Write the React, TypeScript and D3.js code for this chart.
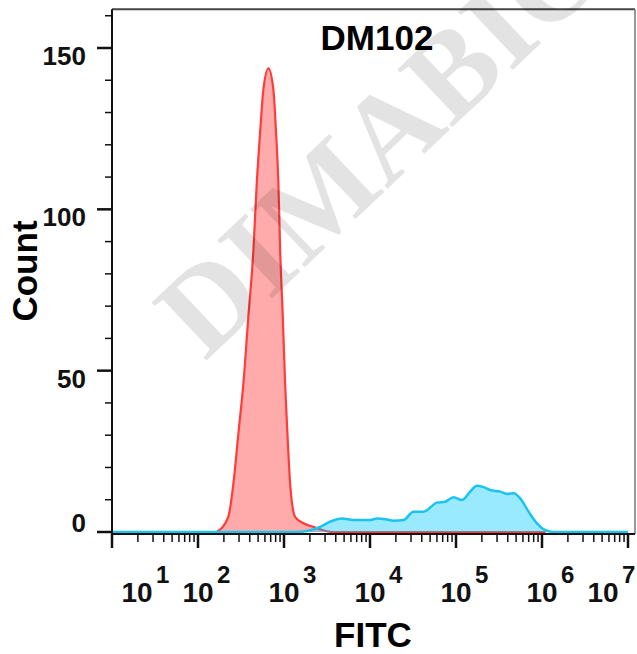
import React from 'react';
import * as d3 from 'd3';

// FITC intensity and count
const redFitc = [165, 225, 258, 295, 337, 385, 441, 482, 527, 575, 659, 753, 809, 861, 902, 968, 1030, 1096, 1178, 1346, 1683, 2198, 3715, 1100000];
const redCount = [0, 4.7, 15, 30.6, 46, 66.7, 87.4, 108, 123.6, 137, 143.7, 137, 123.6, 108, 87.4, 66.7, 46, 30.6, 15, 4.7, 2.7, 1.6, 0, 0];

const blueFitc = [10, 1400, 2630, 3436, 4699, 6427, 10046, 12023, 15704, 18750, 24547, 32063, 41879, 59979, 74817, 93541, 116950, 146220, 174980, 208930, 250030, 326590, 390840, 466660, 558470, 698230, 873000, 1091000, 1361000, 10000000];
const blueCount = [0, 0, 1.6, 3.2, 4.2, 3.7, 3.7, 4.2, 3.9, 3.5, 3.7, 6.3, 6.3, 9.1, 9.4, 10.8, 9.9, 12.5, 14.3, 13.9, 13.0, 12.5, 11.8, 12.0, 10.4, 6.3, 2.7, 0.6, 0, 0];

const yMajor = [0, 50, 100, 150];
const yMinor = [10, 20, 30, 40, 60, 70, 80, 90, 110, 120, 130, 140, 160];
const xDecades = [1, 2, 3, 4, 5, 6, 7];

const title = 'DM102';
const xTitle = 'FITC';
const yTitle = 'Count';
const watermark = 'DIMABIO';

const W = 637;
const H = 654;
const font = '"Liberation Sans", Arial, sans-serif';

export default function App() {
  const x = d3.scaleLog().domain([10, 1e7]).range([112, 628]);
  const y = d3.scaleLinear().domain([0, 150]).range([532, 48]);
  const top = y(162);
  const right = 635;
  const axisY = 534;

  const red = redFitc.map((f, i) => ({ f, c: redCount[i] }));
  const blue = blueFitc.map((f, i) => ({ f, c: blueCount[i] }));

  const area = d3.area<{ f: number; c: number }>()
    .x(d => x(d.f))
    .y0(y(0))
    .y1(d => y(d.c))
    .curve(d3.curveMonotoneX);
  const line = d3.line<{ f: number; c: number }>()
    .x(d => x(d.f))
    .y(d => y(d.c))
    .curve(d3.curveMonotoneX);

  const minorX: number[] = [];
  xDecades.slice(0, -1).forEach(k => {
    for (let m = 2; m <= 9; m++) minorX.push(m * Math.pow(10, k));
  });

  return (
    <svg width={W} height={H} style={{ position: 'absolute', left: 0, top: 0, background: '#fff' }}>
      {/* frame */}
      <line x1={x(10)} x2={right} y1={top} y2={top} stroke="#444" strokeWidth={2} />
      <line x1={right} x2={right} y1={top} y2={axisY} stroke="#777" strokeWidth={1.5} />

      {/* histograms */}
      <path d={area(red) || ''} fill="#ff0000" fillOpacity={0.33} />
      <path d={line(red) || ''} fill="none" stroke="#ff3b3b" strokeWidth={2.2} />
      <path d={area(blue) || ''} fill="#00c8ff" fillOpacity={0.4} />
      <path d={line(blue) || ''} fill="none" stroke="#1cc3ef" strokeWidth={2.5} />

      {/* axes */}
      <line x1={x(10)} x2={x(10)} y1={top} y2={axisY + 14} stroke="#111" strokeWidth={2} />
      <line x1={x(10)} x2={right} y1={axisY} y2={axisY} stroke="#111" strokeWidth={2} />

      {yMajor.map(v => (
        <g key={'ym' + v}>
          <line x1={97} x2={x(10)} y1={y(v)} y2={y(v)} stroke="#111" strokeWidth={2.5} />
          <text x={86} y={y(v) + (v === 0 ? 0 : 17)} textAnchor="end" fontFamily={font} fontWeight="bold" fontSize={26} fill="#111">{v}</text>
        </g>
      ))}
      {yMinor.map(v => (
        <line key={'yn' + v} x1={105} x2={x(10)} y1={y(v)} y2={y(v)} stroke="#111" strokeWidth={1.5} />
      ))}

      {xDecades.map((k, i) => {
        const px = x(Math.pow(10, k));
        const shift = i === 0 ? 25 : i === xDecades.length - 1 ? -25 : 0;
        return (
          <g key={'xm' + k}>
            <line x1={px} x2={px} y1={axisY} y2={axisY + 14} stroke="#111" strokeWidth={2.5} />
            <text x={px + shift} y={602} textAnchor="middle" fontFamily={font} fontWeight="bold" fontSize={28} fill="#111">10</text>
            <text x={px + shift + 19} y={583} textAnchor="start" fontFamily={font} fontWeight="bold" fontSize={24} fill="#111">{k}</text>
          </g>
        );
      })}
      {minorX.map(v => (
        <line key={'xn' + v} x1={x(v)} x2={x(v)} y1={axisY} y2={axisY + 8} stroke="#111" strokeWidth={1.5} />
      ))}

      {/* titles */}
      <text x={377} y={50} textAnchor="middle" fontFamily={font} fontWeight="bold" fontSize={35} fill="#000">{title}</text>
      <text x={373} y={647} textAnchor="middle" fontFamily={font} fontWeight="bold" fontSize={35} fill="#000">{xTitle}</text>
      <text transform="translate(37,271) rotate(-90)" textAnchor="middle" fontFamily={font} fontWeight="bold" fontSize={35} fill="#000">{yTitle}</text>

      {/* watermark */}
      <text transform="translate(205,362) rotate(-43.5)" fontFamily='"Liberation Serif", "Times New Roman", serif' fontWeight="bold" fontSize={122} fill="#000" fillOpacity={0.11}>{watermark}</text>
    </svg>
  );
}
